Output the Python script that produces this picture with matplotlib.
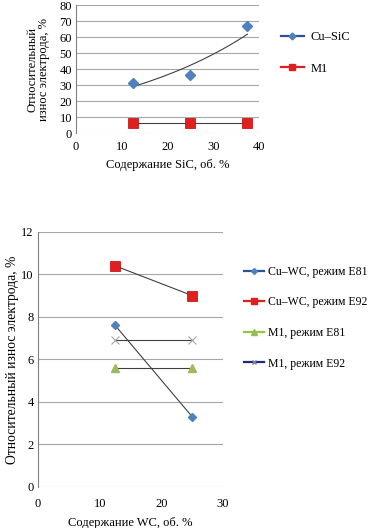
import numpy as np
import matplotlib
matplotlib.use("Agg")
import matplotlib.pyplot as plt
from matplotlib.lines import Line2D

plt.rcParams['font.family'] = ['Liberation Serif', 'DejaVu Serif']

# ---- data, top chart ----
sic_x = [12.5, 25.0, 37.5]
cu_sic = [31.5, 36.0, 67.0]
m1_sic = [6.0, 6.0, 6.0]
top_xticks = [0, 10, 20, 30, 40]
top_yticks = [0, 10, 20, 30, 40, 50, 60, 70, 80]

# ---- data, bottom chart ----
wc_x = [12.5, 25.0]
cu_wc_e81 = [7.6, 3.3]
cu_wc_e92 = [10.4, 9.0]
m1_e81 = [5.6, 5.6]
m1_e92 = [6.9, 6.9]
bot_xticks = [0, 10, 20, 30]
bot_yticks = [0, 2, 4, 6, 8, 10, 12]

BLUE = '#4F81BD'
RED = '#E02020'
GREEN = '#9BBB59'
GRAYX = '#A6A6A6'
TREND = '#404040'
GRID = '#A6A6A6'
FS = 9

fig = plt.figure(figsize=(3.73, 5.28), dpi=100)

def style(ax):
    for s in ['top', 'right', 'bottom']:
        ax.spines[s].set_visible(False)
    ax.spines['left'].set_color('#808080')
    ax.spines['left'].set_linewidth(0.8)
    ax.yaxis.grid(True, color=GRID, linewidth=0.8)
    ax.set_axisbelow(True)
    ax.tick_params(length=0, labelsize=FS, pad=3)

# ---------- top ----------
ax1 = fig.add_axes([0.204, 0.748, 0.490, 0.2425])
style(ax1)
ax1.set_xlim(0, 40)
ax1.set_ylim(0, 80)
ax1.set_xticks(top_xticks)
ax1.set_yticks(top_yticks)
ax1.tick_params(axis='x', pad=6)
# exponential trendline fitted to Cu-SiC
b, a = np.polyfit(sic_x, np.log(cu_sic), 1)
xt = np.linspace(sic_x[0], sic_x[-1], 50)
ax1.plot(xt, np.exp(a + b * xt), color=TREND, lw=0.8, zorder=2)
ax1.plot(sic_x, m1_sic, color=TREND, lw=0.8, zorder=2)
ax1.plot(sic_x, cu_sic, ls='none', marker='D', ms=5.5, color=BLUE, zorder=3)
ax1.plot(sic_x, m1_sic, ls='none', marker='s', ms=7, color=RED,
         markeredgecolor='#C00000', markeredgewidth=0.5, zorder=3)
ax1.set_xlabel('Содержание SiC, об. %', fontsize=FS, labelpad=4)
ax1.set_ylabel('Относительный\nизнос электрода, %', fontsize=FS, labelpad=7,
               linespacing=0.95)

h1 = [Line2D([], [], color='#2F4F9F', lw=1.6, marker='D', ms=3.5,
             markerfacecolor=BLUE, markeredgecolor=BLUE),
      Line2D([], [], color=RED, lw=1.6, marker='s', ms=5,
             markerfacecolor=RED, markeredgecolor=RED)]
fig.legend(h1, ['Cu–SiC', 'M1'], loc='upper left',
           bbox_to_anchor=(0.722, 0.962), frameon=False, fontsize=FS,
           handlelength=1.9, labelspacing=1.56, handletextpad=0.5)

# ---------- bottom ----------
ax2 = fig.add_axes([0.102, 0.0777, 0.496, 0.4833])
style(ax2)
ax2.set_xlim(0, 30)
ax2.set_ylim(0, 12)
ax2.set_xticks(bot_xticks)
ax2.set_yticks(bot_yticks)
ax2.tick_params(axis='x', pad=8)
for ys in (cu_wc_e92, cu_wc_e81, m1_e81, m1_e92):
    ax2.plot(wc_x, ys, color=TREND, lw=0.8, zorder=2)
ax2.plot(wc_x, cu_wc_e81, ls='none', marker='D', ms=4, color=BLUE, zorder=3)
ax2.plot(wc_x, cu_wc_e92, ls='none', marker='s', ms=6.5, color=RED,
         markeredgecolor='#C00000', markeredgewidth=0.5, zorder=3)
ax2.plot(wc_x, m1_e81, ls='none', marker='^', ms=5.5, color=GREEN, zorder=3)
ax2.plot(wc_x, m1_e92, ls='none', marker='x', ms=6, color=GRAYX,
         markeredgewidth=0.8, zorder=3)
ax2.set_xlabel('Содержание WC, об. %', fontsize=FS, labelpad=5)
ax2.set_ylabel('Относительный износ электрода, %', fontsize=9.8, labelpad=2)

h2 = [Line2D([], [], color='#2F4F9F', lw=1.6, marker='D', ms=3,
             markerfacecolor=BLUE, markeredgecolor=BLUE),
      Line2D([], [], color=RED, lw=1.6, marker='s', ms=4.5,
             markerfacecolor=RED, markeredgecolor=RED),
      Line2D([], [], color='#8CCB3C', lw=1.6, marker='^', ms=4,
             markerfacecolor=GREEN, markeredgecolor=GREEN),
      Line2D([], [], color='#1F2A7A', lw=1.6, marker='x', ms=3,
             markeredgecolor='#8080A0')]
fig.legend(h2, ['Cu–WC, режим E81', 'Cu–WC, режим E92',
                'M1, режим E81', 'M1, режим E92'],
           loc='upper left', bbox_to_anchor=(0.625, 0.517), frameon=False,
           fontsize=8.5, handlelength=1.75, labelspacing=1.58,
           handletextpad=0.3)

fig.savefig('out.png', dpi=100)
